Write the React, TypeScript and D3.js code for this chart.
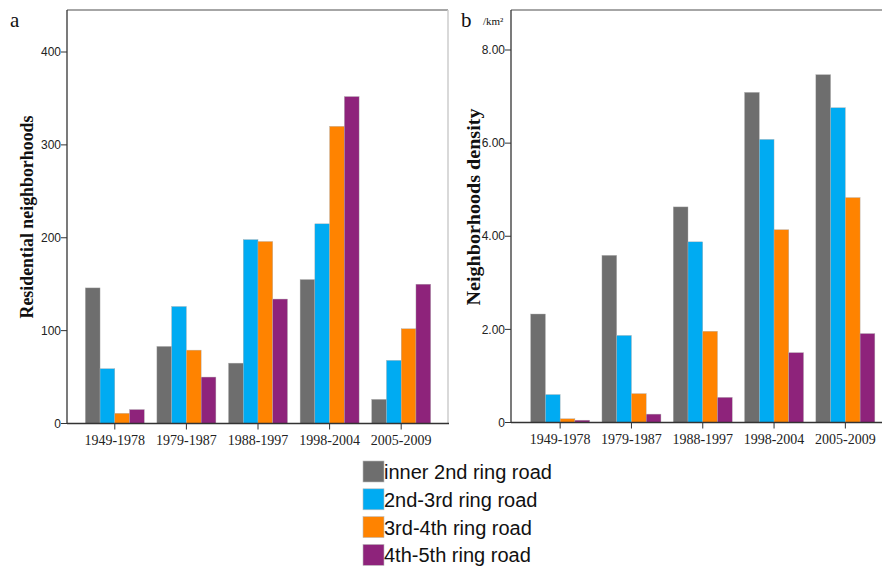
import React from "react";
import * as d3 from "d3";

const categories = ["1949-1978", "1979-1987", "1988-1997", "1998-2004", "2005-2009"];
const seriesNames = ["inner 2nd ring road", "2nd-3rd ring road", "3rd-4th ring road", "4th-5th ring road"];
const colors = ["#6e6e6e", "#00abf2", "#ff8300", "#8e237b"];

// Panel a: residential neighborhoods (count)
const countInner = [146, 83, 65, 155, 26];
const count23 = [59, 126, 198, 215, 68];
const count34 = [11, 79, 196, 320, 102];
const count45 = [15, 50, 134, 352, 150];
const countTicks = [0, 100, 200, 300, 400];

// Panel b: neighborhoods density (/km²)
const densInner = [2.33, 3.59, 4.63, 7.09, 7.47];
const dens23 = [0.6, 1.87, 3.88, 6.08, 6.76];
const dens34 = [0.08, 0.62, 1.96, 4.14, 4.83];
const dens45 = [0.05, 0.18, 0.54, 1.5, 1.91];
const densTicks = [0, 2, 4, 6, 8];

const SANS = "'Liberation Sans', Arial, sans-serif";
const SERIF = "'Liberation Serif', 'Times New Roman', serif";

type PanelProps = {
  series: number[][];
  ticks: number[];
  fmt: (v: number) => string;
  left: number;
  right: number;
  frameRight: number;
  bandLeft: number;
  bandRight: number;
  y0: number;
  yTop: number;
  yRefVal: number;
  yRefPix: number;
  title: string;
  titleX: number;
  titleY: number;
  titleLen: number;
  letter: string;
  letterX: number;
  showRightBorder: boolean;
};

function Panel(p: PanelProps) {
  const y = d3.scaleLinear().domain([0, p.yRefVal]).range([p.y0, p.yRefPix]);
  const x = d3.scaleBand<string>().domain(categories).range([p.bandLeft, p.bandRight]).padding(0);
  const barW = 14.75;
  const groupW = barW * 4;
  const x1 = d3.scaleBand<number>().domain([0, 1, 2, 3]).range([0, groupW]).padding(0);
  return (
    <g>
      <line x1={p.left} x2={p.frameRight} y1={p.yTop} y2={p.yTop} stroke="#888" strokeWidth={1.5} />
      {p.showRightBorder && (
        <line x1={p.frameRight} x2={p.frameRight} y1={p.yTop} y2={p.y0} stroke="#ccc" strokeWidth={1.5} />
      )}
      {categories.map((c, i) => {
        const gx = (x(c) as number) + x.bandwidth() / 2 - groupW / 2;
        return (
          <g key={c}>
            {p.series.map((s, k) => {
              const top = y(s[i]);
              return (
                <rect
                  key={k}
                  x={gx + (x1(k) as number)}
                  y={top}
                  width={x1.bandwidth()}
                  height={p.y0 - top}
                  fill={colors[k]}
                  stroke="#b0b0b0"
                  strokeWidth={0.4}
                />
              );
            })}
          </g>
        );
      })}
      <line x1={p.left} x2={p.left} y1={p.yTop} y2={p.y0} stroke="#333" strokeWidth={1.3} />
      {p.ticks.map((t) => (
        <g key={t}>
          <line x1={p.left - 6} x2={p.left} y1={y(t)} y2={y(t)} stroke="#333" strokeWidth={1} />
          <text x={p.left - 6} y={y(t)} dy="0.35em" textAnchor="end" fontFamily={SANS} fontSize={12} fill="#222">
            {p.fmt(t)}
          </text>
        </g>
      ))}
      <line x1={p.left} x2={p.right} y1={p.y0} y2={p.y0} stroke="#333" strokeWidth={1.3} />
      {categories.map((c) => {
        const cx = (x(c) as number) + x.bandwidth() / 2;
        return (
          <g key={c}>
            <line x1={cx} x2={cx} y1={p.y0} y2={p.y0 + 6} stroke="#333" strokeWidth={1} />
            <text x={cx} y={p.y0 + 21} textAnchor="middle" fontFamily={SERIF} fontSize={14} fill="#222">
              {c}
            </text>
          </g>
        );
      })}
      <text
        transform={`translate(${p.titleX},${p.titleY}) rotate(-90)`}
        textAnchor="middle"
        fontFamily={SERIF}
        fontWeight="bold"
        fontSize={18.5}
        textLength={p.titleLen}
        lengthAdjust="spacingAndGlyphs"
        fill="#111"
      >
        {p.title}
      </text>
      <text x={p.letterX} y={27} fontFamily={SERIF} fontSize={21} fill="#111">
        {p.letter}
      </text>
    </g>
  );
}

export default function App() {
  return (
    <svg width={882} height={570} style={{ position: "absolute", left: 0, top: 0, background: "#fff" }}>
      <rect x={0} y={0} width={882} height={570} fill="#fff" />
      <Panel
        series={[countInner, count23, count34, count45]}
        ticks={countTicks}
        fmt={(v) => String(v)}
        left={67}
        right={449}
        frameRight={448}
        bandLeft={79}
        bandRight={437}
        y0={423.5}
        yTop={10}
        yRefVal={400}
        yRefPix={52}
        title="Residential neighborhoods"
        titleX={33}
        titleY={217}
        titleLen={203}
        letter="a"
        letterX={10}
        showRightBorder={true}
      />
      <Panel
        series={[densInner, dens23, dens34, dens45]}
        ticks={densTicks}
        fmt={(v) => (v === 0 ? "0" : v.toFixed(2))}
        left={511}
        right={882}
        frameRight={882}
        bandLeft={524.5}
        bandRight={881}
        y0={422.5}
        yTop={10}
        yRefVal={8}
        yRefPix={50}
        title="Neighborhoods density"
        titleX={480}
        titleY={207}
        titleLen={197}
        letter="b"
        letterX={461}
        showRightBorder={false}
      />
      <text x={483} y={25} fontFamily={SERIF} fontSize={11} fill="#111">
        /km²
      </text>
      {seriesNames.map((n, i) => (
        <g key={n} transform={`translate(363,${461 + i * 27.8})`}>
          <rect x={0} y={0} width={21} height={21} fill={colors[i]} stroke="#bbb" strokeWidth={0.6} />
          <text x={21} y={18} fontFamily={SANS} fontSize={20} fill="#111">
            {n}
          </text>
        </g>
      ))}
    </svg>
  );
}
